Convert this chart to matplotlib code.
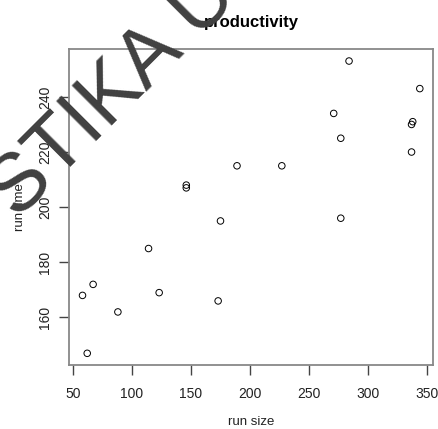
import matplotlib
matplotlib.use('Agg')
from matplotlib import pyplot as plt

# run size vs run time
run_size = [62, 58, 67, 88, 114, 123, 146, 146, 173, 175,
            189, 227, 271, 277, 277, 284, 337, 337, 338, 344]
run_time = [147, 168, 172, 162, 185, 169, 208, 207, 166, 195,
            215, 215, 234, 225, 196, 253, 220, 230, 231, 243]
x_ticks = [50, 100, 150, 200, 250, 300, 350]
y_ticks = [160, 180, 200, 220, 240]

plt.rcParams['font.family'] = ['Liberation Sans', 'DejaVu Sans']
plt.rcParams['savefig.bbox'] = None

fig = plt.figure(figsize=(4.39, 4.29), dpi=100)
ax = fig.add_axes([0.1572, 0.1492, 0.8298, 0.7358])

ax.scatter(run_size, run_time, s=22, facecolors='none', edgecolors='black', linewidths=0.7, zorder=3)

xmin, xmax = min(run_size), max(run_size)
ymin, ymax = min(run_time), max(run_time)
ax.set_xlim(xmin - 0.04 * (xmax - xmin), xmax + 0.04 * (xmax - xmin))
ax.set_ylim(ymin - 0.04 * (ymax - ymin), ymax + 0.04 * (ymax - ymin))

ax.set_xticks(x_ticks)
ax.set_yticks(y_ticks)
ax.set_yticklabels([str(v) for v in y_ticks], rotation=90, va='center')
ax.tick_params(axis='both', direction='out', length=7, width=1, colors='#444444',
               labelsize=10, labelcolor='#222222')
ax.tick_params(axis='x', pad=9)
ax.tick_params(axis='y', pad=5)
for sp in ax.spines.values():
    sp.set_color('#888888')
    sp.set_linewidth(1.3)

ax.set_xlabel('run size', fontsize=9.5, color='#222222', labelpad=11)
ax.set_ylabel('run time', fontsize=9.5, color='#222222', labelpad=9)
ax.set_title('productivity', fontsize=12, fontweight='bold', pad=16)

# watermark overlay
fig.text(17 / 439, 1 - 220 / 429, 'STIKA U', fontsize=59, color='#404040', rotation=45,
         rotation_mode='anchor', ha='left', va='baseline', zorder=10)

fig.savefig('out.png', dpi=100, bbox_inches=None)
